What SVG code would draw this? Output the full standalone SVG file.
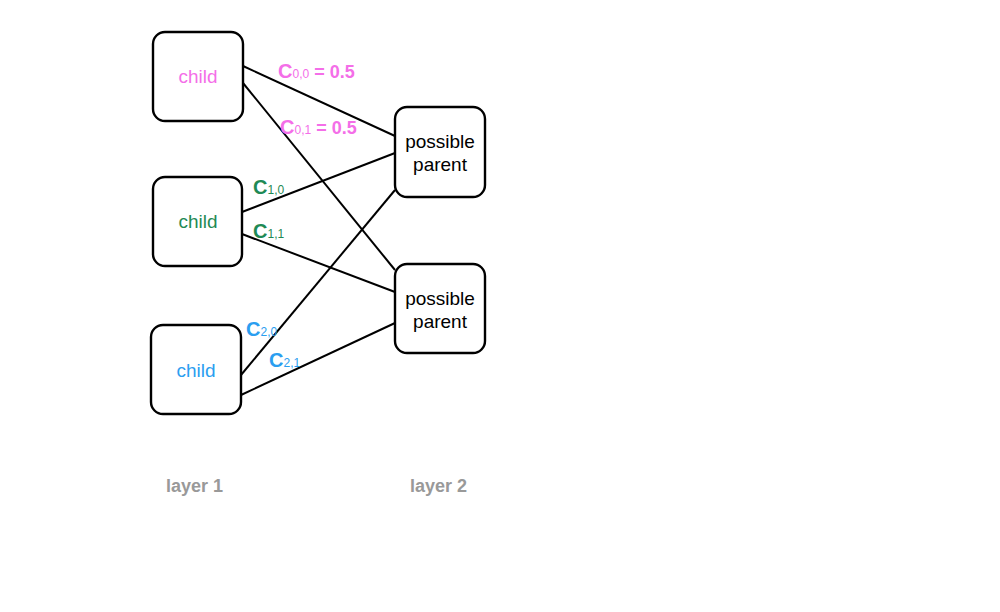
<svg xmlns="http://www.w3.org/2000/svg" width="1000" height="612" viewBox="0 0 1000 612">
<style>
.box{fill:#fff;stroke:#000;stroke-width:2.4}
.lbl{font-family:"Liberation Sans",Arial,sans-serif;font-size:19px;text-anchor:middle}
.edge{stroke:#000;stroke-width:2;fill:none}
.c{font-family:"Liberation Sans",Arial,sans-serif;font-weight:bold;font-size:18px}
.big{font-size:20px}
.sub{font-weight:normal;font-size:12px}
.layer{font-family:"Liberation Sans",Arial,sans-serif;font-weight:bold;font-size:18px;fill:#999}
</style>
<rect width="1000" height="612" fill="#fff"/>
<g id="connectors">
<line class="edge" x1="243" y1="66" x2="395" y2="136"/>
<line class="edge" x1="243" y1="83" x2="395" y2="270"/>
<line class="edge" x1="242" y1="212" x2="395" y2="153"/>
<line class="edge" x1="242" y1="234" x2="395" y2="292"/>
<line class="edge" x1="241" y1="375" x2="395" y2="190"/>
<line class="edge" x1="241" y1="395" x2="395" y2="323"/>
</g>
<g id="child0">
<rect class="box" x="153" y="32" width="90" height="89" rx="12"/>
<text class="lbl" x="198" y="83" fill="#f46ee8">child</text>
</g>
<g id="child1">
<rect class="box" x="153" y="177" width="89" height="89" rx="12"/>
<text class="lbl" x="198" y="228" fill="#1f8a55">child</text>
</g>
<g id="child2">
<rect class="box" x="151" y="325" width="90" height="89" rx="12"/>
<text class="lbl" x="196" y="377" fill="#2b9ef0">child</text>
</g>
<g id="parent0">
<rect class="box" x="395" y="107" width="90" height="90" rx="12"/>
<text class="lbl" x="440" y="148" fill="#000">possible</text>
<text class="lbl" x="440" y="171" fill="#000">parent</text>
</g>
<g id="parent1">
<rect class="box" x="395" y="264" width="90" height="89" rx="12"/>
<text class="lbl" x="440" y="305" fill="#000">possible</text>
<text class="lbl" x="440" y="328" fill="#000">parent</text>
</g>
<g id="labels">
<text class="c" x="278" y="78" fill="#f46ee8"><tspan class="big">C</tspan><tspan class="sub">0,0</tspan> = 0.5</text>
<text class="c" x="280" y="134" fill="#f46ee8"><tspan class="big">C</tspan><tspan class="sub">0,1</tspan> = 0.5</text>
<text class="c" x="253" y="194" fill="#1f8a55"><tspan class="big">C</tspan><tspan class="sub">1,0</tspan></text>
<text class="c" x="253" y="238" fill="#1f8a55"><tspan class="big">C</tspan><tspan class="sub">1,1</tspan></text>
<text class="c" x="246" y="336" fill="#2b9ef0"><tspan class="big">C</tspan><tspan class="sub">2,0</tspan></text>
<text class="c" x="269" y="367" fill="#2b9ef0"><tspan class="big">C</tspan><tspan class="sub">2,1</tspan></text>
<text class="layer" x="166" y="492">layer 1</text>
<text class="layer" x="410" y="492">layer 2</text>
</g>
</svg>
